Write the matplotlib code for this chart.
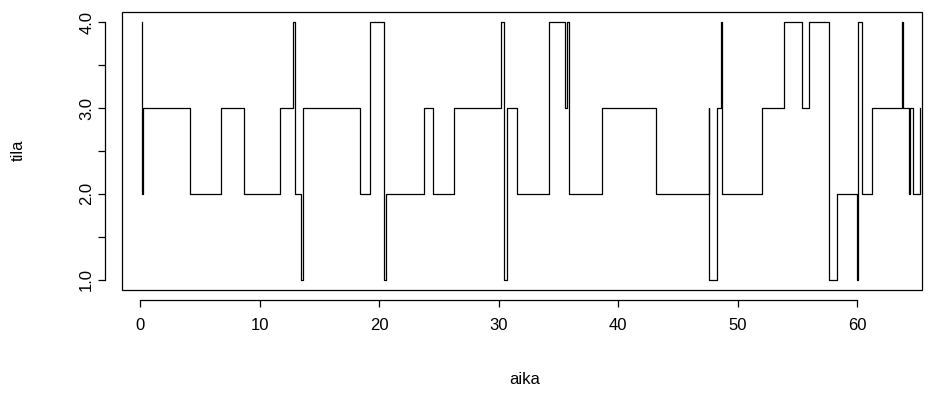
import matplotlib
matplotlib.use("Agg")
import matplotlib.pyplot as plt
from matplotlib.patches import Rectangle

plt.rcParams['font.family'] = ['Liberation Sans', 'DejaVu Sans']

# jump times and the state entered at each jump
aika = [0.15, 0.2, 0.25, 4.21, 6.78, 8.73, 11.72, 12.83, 12.95, 13.45,
        13.6, 18.41, 19.25, 20.42, 20.59, 23.79, 24.55, 26.28, 30.2, 30.47,
        30.72, 31.57, 34.23, 35.56, 35.75, 35.87, 38.63, 43.21, 47.6, 47.65,
        48.3, 48.62, 48.73, 52.08, 53.92, 55.4, 55.98, 57.66, 58.33, 60.0,
        60.1, 60.42, 61.22, 63.77, 63.85, 64.35, 64.46, 64.71, 65.3]
tila = [4, 2, 3, 2, 3, 2, 3, 4, 2, 1,
        3, 2, 4, 1, 2, 3, 2, 3, 4, 1,
        3, 2, 4, 3, 4, 2, 3, 2, 3, 1,
        3, 4, 2, 3, 4, 3, 4, 1, 2, 1,
        4, 2, 3, 4, 3, 2, 3, 2, 3]

x_ticks = [0, 10, 20, 30, 40, 50, 60]
y_ticks = [1.0, 1.5, 2.0, 2.5, 3.0, 3.5, 4.0]
y_labels = ['1.0', '', '2.0', '', '3.0', '', '4.0']

W, H = 943, 398
fig = plt.figure(figsize=(W / 100, H / 100), dpi=100)
ax = fig.add_axes([122 / W, (H - 290) / H, 800 / W, 278 / H])

ax.plot(aika, tila, drawstyle='steps-post', color='black', linewidth=0.9)

ax.set_xlim(-1.51, 65.44)
ax.set_ylim(0.88, 4.12)

# box around the plot region
ax.add_patch(Rectangle((0, 0), 1, 1, transform=ax.transAxes, fill=False,
                       edgecolor='black', linewidth=0.9, clip_on=False))

for s in ['top', 'right']:
    ax.spines[s].set_visible(False)
ax.spines['bottom'].set_position(('outward', 7))
ax.spines['left'].set_position(('outward', 12))
ax.spines['bottom'].set_bounds(0, 60)
ax.spines['left'].set_bounds(1, 4)
for s in ['bottom', 'left']:
    ax.spines[s].set_linewidth(0.9)

ax.set_xticks(x_ticks)
ax.set_xticklabels([str(v) for v in x_ticks])
ax.set_yticks(y_ticks)
ax.set_yticklabels(y_labels, rotation=90, va='center')
ax.tick_params(axis='both', length=5, width=0.9, labelsize=12)
ax.tick_params(axis='x', pad=8)
ax.tick_params(axis='y', pad=3)

fig.text(525 / W, 1 - 380 / H, 'aika', ha='center', va='center', fontsize=12)
fig.text(18 / W, 1 - 150 / H, 'tila', ha='center', va='center',
         rotation=90, fontsize=12)

fig.savefig('out.png', dpi=100)
